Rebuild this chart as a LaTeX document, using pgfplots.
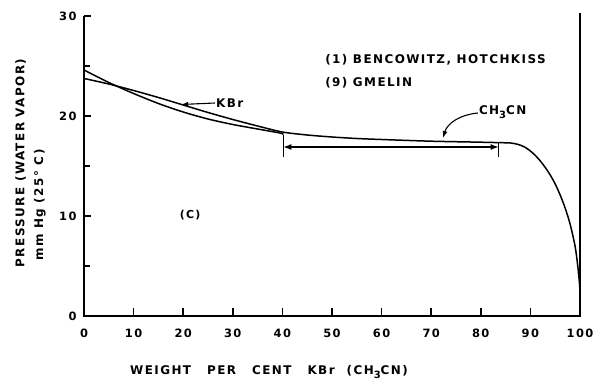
\documentclass[border=0pt]{standalone}
\usepackage{fontspec}
\setmainfont{DejaVu Sans}[LetterSpace=12]
\usepackage{pgfplots}
\pgfplotsset{compat=1.18}
\usetikzlibrary{arrows.meta}
\begin{document}
\begin{tikzpicture}
\path[use as bounding box] (-84bp,-67bp) rectangle (517bp,316bp);
\begin{axis}[
  scale only axis, width=496bp, height=300bp,
  xmin=0, xmax=100, ymin=0, ymax=30,
  axis line style={draw=none},
  xtick pos=lower, ytick pos=left,
  tick align=inside,
  major tick length=0pt,
  xtick={0,10,...,100}, ytick={0,10,20,30},
  /pgf/number format/assume math mode=true,
  ticklabel style={font=\fontsize{11.5}{13}\selectfont\bfseries},
  xticklabel style={yshift=-9bp},
  yticklabel style={xshift=-4bp},
  clip=false,
]
% frame lines
\draw[line width=1.8pt] (axis cs:0,30) -- (axis cs:0,0) -- (axis cs:100,0) -- (axis cs:100,30.3);
% tick marks
\draw[line width=1.6pt, black]
  (axis cs:10,0) -- (axis cs:10,0.8) (axis cs:20,0) -- (axis cs:20,0.8)
  (axis cs:30,0) -- (axis cs:30,0.8) (axis cs:40,0) -- (axis cs:40,0.8)
  (axis cs:50,0) -- (axis cs:50,0.8) (axis cs:60,0) -- (axis cs:60,0.8)
  (axis cs:70,0) -- (axis cs:70,0.8) (axis cs:80,0) -- (axis cs:80,0.8)
  (axis cs:90,0) -- (axis cs:90,0.8)
  (axis cs:0,5) -- (axis cs:1.2,5) (axis cs:0,10) -- (axis cs:1.5,10)
  (axis cs:0,15) -- (axis cs:1.2,15) (axis cs:0,20) -- (axis cs:1.5,20)
  (axis cs:0,25) -- (axis cs:1.2,25) (axis cs:0,30) -- (axis cs:1.5,30);
\addplot[black, line width=1.5pt, smooth, tension=0.5] coordinates {
 (0,23.75) (5,23.2) (10,22.55) (15,21.85) (20,21.1) (25,20.35) (30,19.65)
 (35,19.0) (40,18.4) (45,18.1) (50,17.9) (55,17.75) (60,17.65) (70,17.48)
 (80,17.38) (85,17.32) (86,17.3) (87,17.22) (88,17.08) (89,16.85) (90,16.5)
 (91,16.05) (92,15.5) (93,14.85) (94,14.1) (95,13.2) (96,12.1) (97,10.8)
 (98,9.2) (99,7.0) (99.5,5.2) (99.85,3.5) (100,2.5)
};
\addplot[black, line width=1.5pt, smooth, tension=0.5] coordinates {
 (0,24.6) (5,23.35) (10,22.25) (15,21.25) (20,20.4) (25,19.7) (30,19.15)
 (35,18.7) (39.5,18.3) (40.2,18.15)
};
% range arrow
\draw[line width=1.1pt, {Latex[length=8bp,width=6bp]}-{Latex[length=8bp,width=6bp]}] (axis cs:40.2,16.9) -- (axis cs:83.6,16.9);
\draw[line width=1.1pt] (axis cs:40.2,18.1) -- (axis cs:40.2,15.9);
\draw[line width=1.1pt] (axis cs:83.6,17.3) -- (axis cs:83.6,15.9);
% KBr arrow
\draw[line width=1.1pt, -{Latex[length=7bp,width=5bp]}] (axis cs:26.4,21.3) -- (axis cs:19.6,21.15);
\node[anchor=west, font=\fontsize{12}{14}\selectfont\bfseries, inner sep=1pt] at (axis cs:26.4,21.3) {KBr};
% CH3CN arrow
\draw[line width=1.1pt, -{Latex[length=7bp,width=5bp]}] (axis cs:79.4,20.3) .. controls (axis cs:75.5,20.1) and (axis cs:73.2,19.2) .. (axis cs:72.4,17.8);
\node[anchor=west, font=\fontsize{12}{14}\selectfont\bfseries, inner sep=1pt] at (axis cs:79.4,20.4) {CH\raisebox{-0.5ex}{\fontsize{10}{11}\selectfont 3}CN};
% legend text
\node[anchor=west, font=\fontsize{12}{14}\selectfont\bfseries, inner sep=0pt] at (axis cs:48.6,25.6) {(1) BENCOWITZ, HOTCHKISS};
\node[anchor=west, font=\fontsize{12}{14}\selectfont\bfseries, inner sep=0pt] at (axis cs:48.6,23.3) {(9) GMELIN};
\node[font=\fontsize{11}{13}\selectfont\bfseries] at (axis cs:21.4,10.1) {(C)};
% axis labels
\node[rotate=90, font=\fontsize{12}{14}\selectfont\bfseries] at (axis cs:-12.8,15.3) {PRESSURE (WATER VAPOR)};
\node[rotate=90, font=\fontsize{12}{14}\selectfont\bfseries] at (axis cs:-8.9,11.1) {mm Hg (25° C)};
\node[font=\fontsize{12}{14}\selectfont\bfseries] at (axis cs:37.3,-5.6) {WEIGHT\hspace{16bp}PER\hspace{16bp}CENT\hspace{16bp}KBr\hspace{12bp}(CH\raisebox{-0.5ex}{\fontsize{10}{11}\selectfont 3}CN)};
\end{axis}
\end{tikzpicture}
\end{document}
